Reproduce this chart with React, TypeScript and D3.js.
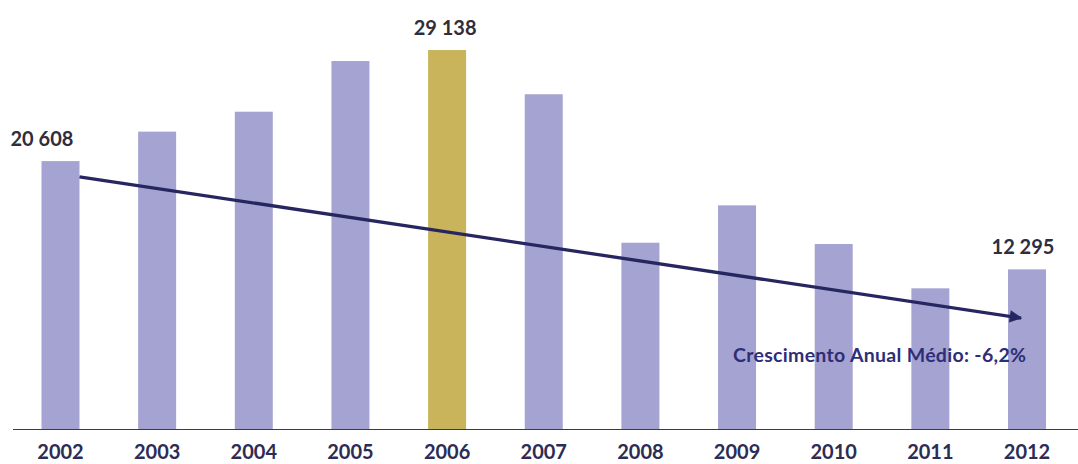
import React from "react";
import * as d3 from "d3";

const years = ["2002", "2003", "2004", "2005", "2006", "2007", "2008", "2009", "2010", "2011", "2012"];
const values = [20608, 22870, 24400, 28290, 29138, 25740, 14340, 17210, 14240, 10840, 12295];
const labelledYears = ["2002", "2006", "2012"];
const labelTexts = ["20 608", "29 138", "12 295"];
const highlightYear = "2006";
const trendYears = ["2002", "2012"];
const trendValues = [19400, 8560];
const annotation = "Crescimento Anual Médio: -6,2%";

const W = 1078;
const H = 464;
const FONT = "Lato, 'Open Sans', sans-serif";

export default function App() {
  const x = d3.scaleBand<string>().domain(years).range([41.5, 1046]).paddingInner(0.607).paddingOuter(0);
  const y = d3.scaleLinear().domain([0, 29138]).range([429.5, 50]);
  const bw = x.bandwidth();

  const tx1 = (x(trendYears[0]) as number) + bw;
  const ty1 = y(trendValues[0]);
  const tx2 = (x(trendYears[1]) as number) + bw / 2 - 6;
  const ty2 = y(trendValues[1]);
  const line = d3.line()([[tx1, ty1], [tx2, ty2]]) as string;

  const labelAnchor = ["start", "middle", "middle"];
  const labelDx = [-50, -2, -4];

  return (
    <svg width={W} height={H} style={{ position: "absolute", left: 0, top: 0, background: "#fff" }}>
      <defs>
        <marker id="arr" viewBox="0 0 10 10" refX="9" refY="5" markerWidth="4.6" markerHeight="3.8" orient="auto" markerUnits="strokeWidth">
          <path d="M0,0 L10,5 L0,10 z" fill="#262660" />
        </marker>
      </defs>
      {years.map((yr, i) => (
        <rect
          key={yr}
          x={x(yr)}
          y={y(values[i])}
          width={bw}
          height={y(0) - y(values[i])}
          fill={yr === highlightYear ? "#C9B35B" : "#A4A3D2"}
        />
      ))}
      <line x1={13} x2={W} y1={y(0)} y2={y(0)} stroke="#3a3a4a" strokeWidth={1.2} />
      {years.map((yr) => (
        <text
          key={"t" + yr}
          x={(x(yr) as number) + bw / 2}
          y={459}
          textAnchor="middle"
          fontFamily={FONT}
          fontWeight={700}
          fontSize={20}
          fill="#2c2c55"
        >
          {yr}
        </text>
      ))}
      {labelledYears.map((yr, k) => {
        const i = years.indexOf(yr);
        return (
          <text
            key={"l" + yr}
            x={(x(yr) as number) + bw / 2 + labelDx[k]}
            y={y(values[i]) - 15}
            textAnchor={labelAnchor[k] as any}
            fontFamily={FONT}
            fontWeight={700}
            fontSize={20}
            fill="#2e2e3c"
          >
            {labelTexts[k]}
          </text>
        );
      })}
      <path d={line} stroke="#262660" strokeWidth={3.3} fill="none" markerEnd="url(#arr)" />
      <text
        x={733}
        y={362}
        textAnchor="start"
        fontFamily={FONT}
        fontWeight={700}
        fontSize={19.5}
        fill="#2e2e78"
        textLength={293}
        lengthAdjust="spacing"
      >
        {annotation}
      </text>
    </svg>
  );
}
